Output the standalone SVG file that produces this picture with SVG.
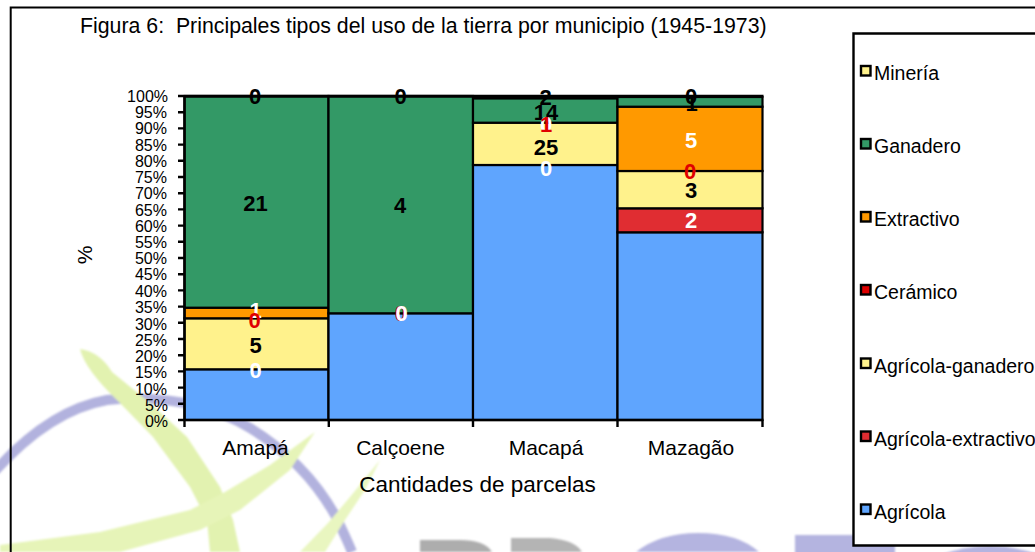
<svg xmlns="http://www.w3.org/2000/svg" width="1035" height="552" viewBox="0 0 1035 552">
<defs><filter id="soft" x="-5%" y="-5%" width="110%" height="110%"><feGaussianBlur stdDeviation="1"/></filter></defs>
<style>
text{font-family:"Liberation Sans",Arial,sans-serif;fill:#000}
.t{font-size:16px;text-anchor:end}
.c{font-size:21px;text-anchor:middle}
.n{font-size:22px;font-weight:bold;text-anchor:middle}
.w{fill:#fff}.r{fill:#e00000}
.l{font-size:19.500px}
.bar{stroke:#000;stroke-width:2.200}
.k{stroke:#000;stroke-width:2.400;fill:none}
.sw{stroke:#000;stroke-width:2.400}
.g{fill:#339966}.y{fill:#fff28c}.o{fill:#ff9900}.b{fill:#5fa5fe}.e{fill:#e02d32}.d{fill:#dd0000}
</style>
<rect width="1035" height="552" fill="#fff"/>
<g id="watermark" filter="url(#soft)">
<path d="M-5 471Q50 410 107 400Q190 392 250 428Q305 462 335 515Q345 535 352 552" fill="none" stroke="#b2b2de" stroke-width="10"/>
<path d="M80 349Q100 352 112 372L150 403L187 437L220 487L233 520L240 552H210L207 520L190 487L153 437L120 403Q85 370 80 349Z" fill="#e2f2b0"/>
<path d="M315 432L270 465L225 492L190 510L100 532L0 545V552H120L200 530L240 510L290 470Z" fill="#e6f4b8"/>
<path d="M380 460L350 497L328 523L300 552H325L345 520L365 490Z" fill="#e9f6c0"/>
<path d="M420 552V540H460Q485 540 492 552Z" fill="#adadad"/>
<path d="M511 552V538H550Q575 540 582 552Z" fill="#b4b4b4"/>
<path d="M636 552Q660 533 698 533Q738 533 759 552Z" fill="#b4b4e0"/>
<rect x="795" y="535" width="100" height="20" fill="#b4b4e0"/>
<path d="M940 555Q965 546 990 546Q1015 546 1040 555Z" fill="#b4b4e0"/>
</g>
<path d="M10.700 552V7.500H1035" fill="none" stroke="#000" stroke-width="2"/>
<text x="80" y="33" font-size="21.300" xml:space="preserve">Figura 6:  Principales tipos del uso de la tierra por municipio (1945-1973)</text>
<g id="plot">
<g id="bar-amapa" class="bar">
<rect class="b" x="184.500" y="369.300" width="144" height="50.700"/>
<rect class="y" x="184.500" y="318.300" width="144" height="51"/>
<rect class="o" x="184.500" y="307.700" width="144" height="10.600"/>
<rect class="g" x="184.500" y="96" width="144" height="211.700"/>
</g>
<g id="bar-calcoene" class="bar">
<rect class="b" x="328.500" y="313.300" width="144.500" height="106.700"/>
<rect class="g" x="328.500" y="96" width="144.500" height="217.300"/>
</g>
<g id="bar-macapa" class="bar">
<rect class="b" x="473" y="165" width="144.500" height="255"/>
<rect class="y" x="473" y="122.700" width="144.500" height="42.300"/>
<rect class="g" x="473" y="98.500" width="144.500" height="24.200"/>
</g>
<g id="bar-mazagao" class="bar">
<rect class="b" x="617.500" y="232.300" width="145" height="187.700"/>
<rect class="e" x="617.500" y="208.300" width="145" height="24"/>
<rect class="y" x="617.500" y="171" width="145" height="37.300"/>
<rect class="o" x="617.500" y="106.700" width="145" height="64.300"/>
<rect class="g" x="617.500" y="97" width="145" height="9.700"/>
</g>
<path d="M184 96.300H763.500" stroke="#000" stroke-width="3" fill="none"/>
<path d="M473 97.500H617" stroke="#000" stroke-width="3" fill="none"/>
</g>
<path class="k" d="M184.500 95V420M178 420H763.500M178 96H184M178 112.200H184M178 128.400H184M178 144.600H184M178 160.800H184M178 177H184M178 193.200H184M178 209.400H184M178 225.600H184M178 241.800H184M178 258H184M178 274.200H184M178 290.400H184M178 306.600H184M178 322.800H184M178 339H184M178 355.200H184M178 371.400H184M178 387.600H184M178 403.800H184M184.500 420V427M328.800 420V427M473 420V427M617.500 420V427M762.500 420V427"/>
<g id="axis-labels">
<text class="t" x="168" y="102">100%</text><text class="t" x="167" y="118">95%</text><text class="t" x="167" y="134">90%</text><text class="t" x="167" y="151">85%</text><text class="t" x="167" y="167">80%</text><text class="t" x="167" y="183">75%</text><text class="t" x="167" y="199">70%</text><text class="t" x="167" y="216">65%</text><text class="t" x="167" y="232">60%</text><text class="t" x="167" y="248">55%</text><text class="t" x="167" y="264">50%</text><text class="t" x="167" y="280">45%</text><text class="t" x="167" y="297">40%</text><text class="t" x="167" y="313">35%</text><text class="t" x="167" y="330">30%</text><text class="t" x="167" y="346">25%</text><text class="t" x="167" y="362">20%</text><text class="t" x="167" y="378">15%</text><text class="t" x="167" y="395">10%</text><text class="t" x="168" y="411">5%</text><text class="t" x="168" y="427">0%</text>
<text class="c" x="255.500" y="455">Amapá</text><text class="c" x="400.500" y="455">Calçoene</text><text class="c" x="546" y="455">Macapá</text><text class="c" x="691" y="455">Mazagão</text>
<text x="477.500" y="492" text-anchor="middle" font-size="22.500">Cantidades de parcelas</text>
<text transform="translate(92 255) rotate(-90)" text-anchor="middle" font-size="21">%</text>
</g>
<g id="data-labels">
<text class="n" x="255" y="104">0</text><text class="n" x="400.500" y="104">0</text>
<text class="n" x="255.500" y="211">21</text><text class="n" x="400" y="212.500">4</text>
<text class="n w" x="255.500" y="318">1</text><text class="n r" x="254.500" y="328">0</text><text class="n" x="255.500" y="353">5</text><text class="n w" x="255.500" y="378">0</text>
<text class="n r" x="400.500" y="321">0</text><text class="n w" x="401.500" y="321">0</text>
<text class="n" x="545.500" y="105">2</text><text class="n" x="546" y="120">14</text><text class="n w" x="546" y="131.700">0</text><text class="n r" x="546" y="131.700">1</text><text class="n" x="546" y="155">25</text><text class="n w" x="546" y="175.700">0</text>
<text class="n" x="691" y="104">0</text><text class="n" x="691.500" y="111">1</text><text class="n w" x="691" y="147.700">5</text><text class="n r" x="690" y="179">0</text><text class="n" x="691" y="198">3</text><text class="n w" x="691" y="228">2</text>
</g>
<g id="legend">
<path d="M1040 33.500H853.500V545.500H1040V33.500Z" fill="#fff" stroke="#000" stroke-width="2.400"/>
<rect class="sw y" x="861" y="66" width="9.500" height="9.500"/><text class="l" x="874" y="80">Minería</text>
<rect class="sw g" x="861" y="139" width="9.500" height="9.500"/><text class="l" x="874" y="153">Ganadero</text>
<rect class="sw o" x="861" y="212" width="9.500" height="9.500"/><text class="l" x="874" y="226">Extractivo</text>
<rect class="sw d" x="861" y="285" width="9.500" height="9.500"/><text class="l" x="874" y="299">Cerámico</text>
<rect class="sw y" x="861" y="358.500" width="9.500" height="9.500"/><text class="l" x="874" y="372.500">Agrícola-ganadero</text>
<rect class="sw e" x="861" y="431.500" width="9.500" height="9.500"/><text class="l" x="874" y="445.500">Agrícola-extractivo</text>
<rect class="sw b" x="861" y="504.500" width="9.500" height="9.500"/><text class="l" x="874" y="518.500">Agrícola</text>
</g>
</svg>
